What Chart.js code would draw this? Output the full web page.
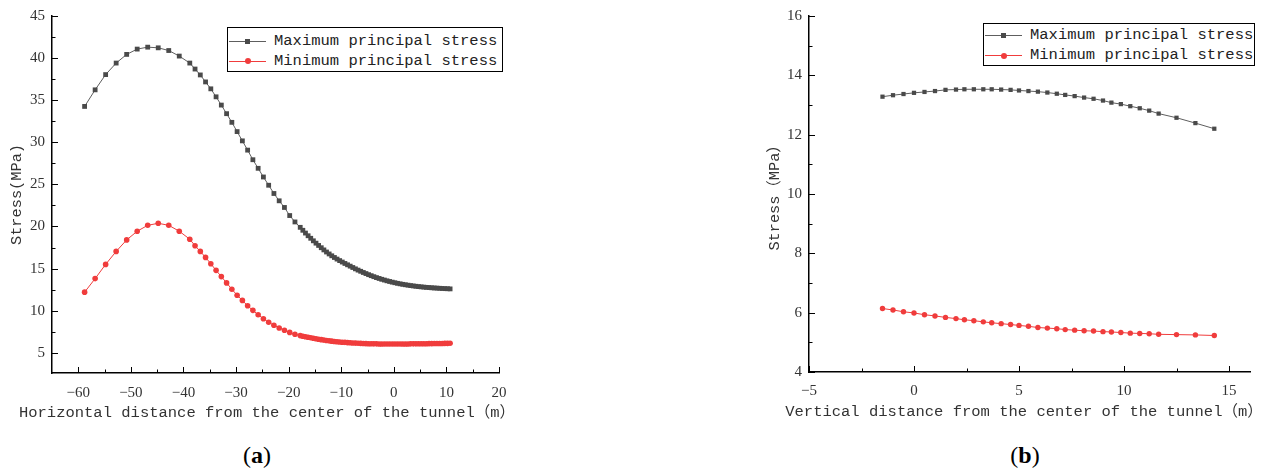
<!DOCTYPE html>
<html>
<head>
<meta charset="utf-8">
<script src="https://cdn.jsdelivr.net/npm/chart.js@4.4.1/dist/chart.umd.min.js"></script>
<style>
  body { margin: 0; background: #fff; width: 1273px; height: 475px; position: relative; overflow: hidden; }
  canvas { position: absolute; top: 0; }
  #chartA { left: 0; }
  #chartB { left: 760px; }
  .legend { position: absolute; border: 1.5px solid #000; box-sizing: border-box; background: #fff; }
  .row { position: absolute; left: 0; right: 0; height: 20px; }
  .row .ln { position: absolute; left: 1px; width: 37px; height: 1px; top: 10px; }
  .row .mk { position: absolute; }
  .row .tx { position: absolute; left: 46px; top: 0; font: 15.5px 'Liberation Mono', monospace; line-height: 20px; color: #222; white-space: nowrap; }
  .xtitle { position: absolute; font: 15.5px 'Liberation Mono', 'Noto Sans CJK SC', monospace; line-height: 20px; color: #333; white-space: nowrap; transform: translateX(-50%); }
  .cap { position: absolute; top: 441px; font: 24px 'Liberation Serif', serif; line-height: 28px; color: #000; transform: translateX(-50%); }
</style>
</head>
<body>
<canvas id="chartA" width="530" height="422"></canvas>
<canvas id="chartB" width="513" height="422"></canvas>
<div class="xtitle" style="left:267px; top:403px">Horizontal distance from the center of the tunnel（m）</div>
<div class="xtitle" style="left:1024px; top:402px">Vertical distance from the center of the tunnel（m）</div>
<div class="cap" style="left:257px">(<b>a</b>)</div>
<div class="cap" style="left:1025px">(<b>b</b>)</div>
<script>
// (a) horizontal profile
const leftX = [-58.8, -56.8, -54.8, -52.8, -50.8, -48.8, -46.8, -44.8, -42.8, -40.8, -38.8,
  -37.8, -36.8, -35.8, -34.8, -33.8, -32.8, -31.8, -30.8, -29.8, -28.8, -27.8, -26.8, -25.8,
  -24.8, -23.8, -22.8, -21.8, -20.8, -19.8, -18.8,
  -17.8, -17.3, -16.8, -16.3, -15.8, -15.3, -14.8, -14.3, -13.8, -13.3, -12.8, -12.3, -11.8,
  -11.3, -10.8, -10.3, -9.8, -9.3, -8.8, -8.3, -7.8, -7.3, -6.8, -6.3, -5.8, -5.3, -4.8, -4.3,
  -3.8, -3.3, -2.8, -2.3, -1.8, -1.3, -0.8, -0.3, 0.2, 0.7, 1.2, 1.7, 2.2, 2.7, 3.2, 3.7, 4.2,
  4.7, 5.2, 5.7, 6.2, 6.7, 7.2, 7.7, 8.2, 8.7, 9.2, 9.7, 10.2, 10.7];
const leftMax = [34.26, 36.23, 38.04, 39.41, 40.44, 41.07, 41.30, 41.22, 40.90, 40.24, 39.41,
  38.70, 38.00, 37.17, 36.35, 35.40, 34.42, 33.40, 32.37, 31.27, 30.17, 29.07, 27.93, 26.91,
  25.88, 24.90, 23.92, 23.05, 22.26, 21.30, 20.54,
  19.90, 19.55, 19.22, 18.90, 18.60, 18.30, 18.02, 17.75, 17.48, 17.22, 16.97, 16.74, 16.52,
  16.32, 16.13, 15.95, 15.78, 15.61, 15.45, 15.29, 15.13, 14.97, 14.82, 14.68, 14.54, 14.41,
  14.28, 14.16, 14.04, 13.93, 13.83, 13.73, 13.64, 13.55, 13.47, 13.39, 13.32, 13.25, 13.19,
  13.13, 13.08, 13.03, 12.98, 12.94, 12.90, 12.86, 12.83, 12.80, 12.77, 12.75, 12.72, 12.70,
  12.68, 12.66, 12.64, 12.62, 12.61, 12.59];
const leftMin = [12.20, 13.81, 15.50, 17.04, 18.41, 19.44, 20.14, 20.38, 20.14, 19.44, 18.49,
  17.71, 17.04, 16.33, 15.58, 14.79, 14.05, 13.30, 12.55, 11.84, 11.22, 10.58, 10.04, 9.52,
  9.05, 8.62, 8.27, 7.95, 7.68, 7.42, 7.20,
  7.04, 6.97, 6.90, 6.84, 6.78, 6.72, 6.66, 6.61, 6.56, 6.51, 6.46, 6.42, 6.38,
  6.35, 6.32, 6.29, 6.26, 6.24, 6.21, 6.19, 6.17, 6.15, 6.13, 6.12, 6.10, 6.09,
  6.08, 6.07, 6.06, 6.06, 6.05, 6.05, 6.04, 6.04, 6.04, 6.04, 6.04, 6.04, 6.04,
  6.05, 6.05, 6.05, 6.06, 6.06, 6.06, 6.07, 6.07, 6.08, 6.08, 6.09, 6.09, 6.10,
  6.10, 6.11, 6.11, 6.12, 6.12, 6.13];

// (b) vertical profile
const rightX = [-1.5, -1.0, -0.5, 0, 0.5, 1.0, 1.5, 2.0, 2.4, 2.85, 3.3, 3.7, 4.15, 4.6, 5.0,
  5.45, 5.9, 6.35, 6.8, 7.2, 7.65, 8.1, 8.55, 9.0, 9.4, 9.85, 10.3, 10.75, 11.2, 11.65,
  12.5, 13.4, 14.3];
const rightMax = [13.28, 13.33, 13.37, 13.41, 13.44, 13.47, 13.51, 13.52, 13.53, 13.53, 13.53,
  13.53, 13.52, 13.51, 13.49, 13.47, 13.45, 13.42, 13.38, 13.34, 13.30, 13.25, 13.21, 13.15,
  13.08, 13.03, 12.96, 12.89, 12.81, 12.71, 12.57, 12.39, 12.20];
const rightMin = [6.14, 6.09, 6.03, 5.99, 5.93, 5.89, 5.84, 5.80, 5.76, 5.73, 5.69, 5.66,
  5.63, 5.60, 5.57, 5.54, 5.50, 5.48, 5.46, 5.43, 5.41, 5.39, 5.38, 5.36, 5.35, 5.33, 5.31,
  5.30, 5.29, 5.27, 5.26, 5.25, 5.23];

const seriesNames = ['Maximum principal stress', 'Minimum principal stress'];

const leftXTicks = [-60, -50, -40, -30, -20, -10, 0, 10, 20];
const leftXMinor = [-55, -45, -35, -25, -15, -5, 5, 15];
const leftYTicks = [5, 10, 15, 20, 25, 30, 35, 40, 45];
const leftYMinor = [7.5, 12.5, 17.5, 22.5, 27.5, 32.5, 37.5, 42.5];
const rightXTicks = [-5, 0, 5, 10, 15];
const rightXMinor = [-2.5, 2.5, 7.5, 12.5];
const rightYTicks = [4, 6, 8, 10, 12, 14, 16];
const rightYMinor = [5, 7, 9, 11, 13, 15];

const maxColor = '#4a4a4a';
const maxLine = '#5e5e5e';
const minColor = '#f03c3c';

const monoFont = "'Liberation Mono', 'Noto Sans CJK SC', monospace";
const numFont = "'Liberation Serif', serif";

function series(xs, ys, name, color, line, style, r) {
  return {
    label: name,
    data: xs.map((x, i) => ({ x: x, y: ys[i] })),
    showLine: true,
    borderColor: line,
    borderWidth: 1,
    pointStyle: style,
    pointRadius: r,
    pointHoverRadius: r,
    pointBackgroundColor: color,
    pointBorderWidth: 0,
    tension: 0
  };
}

// inward ticks like the original plot
const tickMarks = {
  id: 'tickMarks',
  afterDraw(chart, args, o) {
    const { ctx, chartArea: a, scales: { x, y } } = chart;
    ctx.save();
    ctx.strokeStyle = '#000';
    ctx.lineWidth = 1;
    ctx.beginPath();
    const tx = (v, len) => {
      const p = Math.round(x.getPixelForValue(v)) + 0.5;
      ctx.moveTo(p, a.bottom);
      ctx.lineTo(p, a.bottom - len);
    };
    const ty = (v, len) => {
      const p = Math.round(y.getPixelForValue(v)) + 0.5;
      ctx.moveTo(a.left, p);
      ctx.lineTo(a.left + len, p);
    };
    o.xMajor.forEach(v => tx(v, 6));
    o.xMinor.forEach(v => tx(v, 3.5));
    o.yMajor.forEach(v => ty(v, 6));
    o.yMinor.forEach(v => ty(v, 3.5));
    ctx.stroke();
    ctx.restore();
  }
};

const fmt = v => String(v).replace('-', '\u2212');

function makeChart(id, cfg) {
  return new Chart(document.getElementById(id), {
    type: 'scatter',
    data: {
      datasets: [
        series(cfg.xs, cfg.max, seriesNames[0], maxColor, maxLine, 'rect', cfg.rRect),
        series(cfg.xs, cfg.min, seriesNames[1], minColor, minColor, 'circle', cfg.rCirc)
      ]
    },
    options: {
      responsive: false,
      animation: false,
      devicePixelRatio: 1,
      events: [],
      layout: { padding: cfg.pad },
      scales: {
        x: {
          type: 'linear',
          min: cfg.xMin, max: cfg.xMax,
          afterBuildTicks: s => { s.ticks = cfg.xTicks.map(v => ({ value: v })); },
          afterFit: s => { s.height = cfg.xH; },
          grid: { display: true, drawOnChartArea: false, drawTicks: false },
          border: { display: true, color: '#000', width: 1.5 },
          ticks: { padding: cfg.xPad, color: '#333', autoSkip: false, maxRotation: 0,
            font: { family: numFont, size: 15 }, callback: fmt },
          title: { display: false }
        },
        y: {
          type: 'linear',
          min: cfg.yMin, max: cfg.yMax,
          afterBuildTicks: s => { s.ticks = cfg.yTicks.map(v => ({ value: v })); },
          afterFit: s => { s.width = cfg.yW; },
          grid: { display: true, drawOnChartArea: false, drawTicks: false },
          border: { display: true, color: '#000', width: 1.5 },
          ticks: { padding: 7, color: '#333', font: { family: numFont, size: 15 }, callback: fmt },
          title: { display: true, text: cfg.yTitle, color: '#333',
            font: { family: monoFont, size: 15.3 }, padding: { top: cfg.yTitlePad, bottom: 0 } }
        }
      },
      plugins: {
        legend: { display: false },
        tooltip: { enabled: false },
        tickMarks: { xMajor: cfg.xTicks, xMinor: cfg.xMinor, yMajor: cfg.yTicks, yMinor: cfg.yMinor }
      }
    },
    plugins: [tickMarks]
  });
}

const chartA = makeChart('chartA', {
  xs: leftX, max: leftMax, min: leftMin, rRect: 3.4, rCirc: 2.8,
  xMin: -65, xMax: 20, yMin: 2.6, yMax: 45,
  xTicks: leftXTicks, xMinor: leftXMinor, yTicks: leftYTicks, yMinor: leftYMinor,
  pad: { left: 0, top: 14, right: 31, bottom: 0 }, xH: 49, yW: 52, yTitlePad: 8, xPad: 11,
  yTitle: 'Stress(MPa)'
});

const chartB = makeChart('chartB', {
  xs: rightX, max: rightMax, min: rightMin, rRect: 3.0, rCirc: 2.7,
  xMin: -5, xMax: 16, yMin: 4, yMax: 16,
  xTicks: rightXTicks, xMinor: rightXMinor, yTicks: rightYTicks, yMinor: rightYMinor,
  pad: { left: 0, top: 16, right: 23, bottom: 0 }, xH: 50, yW: 49, yTitlePad: 6, xPad: 10,
  yTitle: 'Stress（MPa）'
});

// Origin-style legend box: line + marker + name
function buildLegend(chart, left, top, width, height, rowTop) {
  const box = document.createElement('div');
  box.className = 'legend';
  Object.assign(box.style, { left: left + 'px', top: top + 'px', width: width + 'px', height: height + 'px' });
  chart.data.datasets.forEach((ds, i) => {
    const row = document.createElement('div');
    row.className = 'row';
    row.style.top = rowTop[i] + 'px';
    const ln = document.createElement('div');
    ln.className = 'ln';
    ln.style.background = ds.borderColor;
    const mk = document.createElement('div');
    mk.className = 'mk';
    const s = ds.pointStyle === 'rect' ? 5 : 6;
    Object.assign(mk.style, { width: s + 'px', height: s + 'px', left: (19.5 - s / 2) + 'px',
      top: (10.5 - s / 2) + 'px', background: ds.pointBackgroundColor,
      borderRadius: ds.pointStyle === 'circle' ? '50%' : '0' });
    const tx = document.createElement('div');
    tx.className = 'tx';
    tx.textContent = ds.label;
    row.append(ln, mk, tx);
    box.appendChild(row);
  });
  document.body.appendChild(box);
}

buildLegend(chartA, 227, 27, 276, 45, [2.5, 22.5]);
buildLegend(chartB, 983, 23, 272, 43, [1, 21]);
</script>
</body>
</html>
